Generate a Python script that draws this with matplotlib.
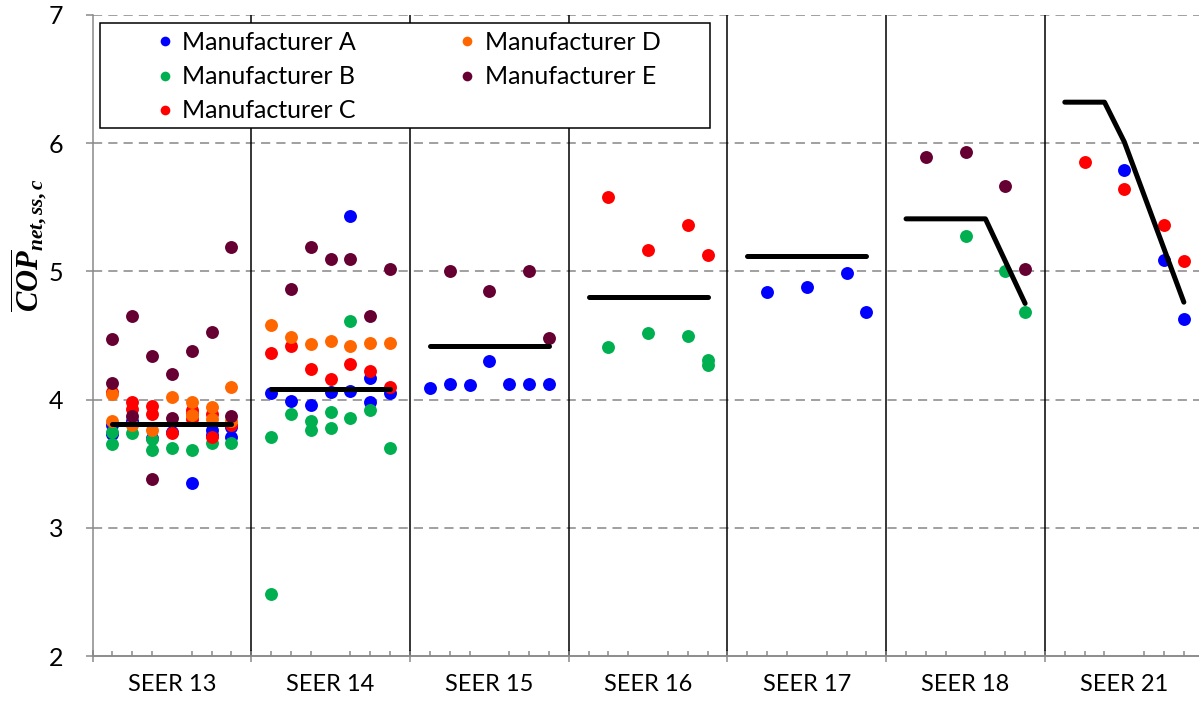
import matplotlib
matplotlib.use('Agg')
import matplotlib.pyplot as plt
from matplotlib.ticker import MultipleLocator
from matplotlib.patches import Rectangle

plt.rcParams['font.family'] = ['Lato', 'DejaVu Sans']
plt.rcParams['mathtext.fontset'] = 'custom'
plt.rcParams['mathtext.it'] = 'Liberation Serif:italic:bold'
plt.rcParams['mathtext.rm'] = 'Liberation Serif:bold'

# categorias (cada grupo ocupa 8 unidades en el eje x)
categories = ['SEER 13', 'SEER 14', 'SEER 15', 'SEER 16', 'SEER 17', 'SEER 18', 'SEER 21']

# Fabricante A
a_x = [1, 1, 2, 3, 4, 5, 6, 6, 7, 7,
       9, 10, 11, 12, 13, 13, 14, 14, 15,
       17, 18, 19, 20, 21, 22, 23,
       34, 36, 38, 39,
       52, 54, 55]
a_y = [3.80, 3.73, 3.83, 3.70, 3.75, 3.35, 3.76, 3.72, 3.71, 3.79,
       4.05, 3.99, 3.96, 4.06, 5.43, 4.07, 4.17, 3.98, 4.05,
       4.09, 4.12, 4.11, 4.30, 4.12, 4.12, 4.12,
       4.84, 4.88, 4.99, 4.68,
       5.79, 5.09, 4.63]

# Fabricante B
b_x = [1, 1, 2, 3, 3, 4, 5, 6, 7,
       9, 9, 10, 11, 11, 12, 12, 13, 13, 14, 15,
       26, 28, 30, 31, 31,
       44, 46, 47]
b_y = [3.75, 3.65, 3.74, 3.69, 3.61, 3.62, 3.61, 3.66, 3.66,
       3.71, 2.48, 3.89, 3.83, 3.76, 3.90, 3.78, 4.61, 3.86, 3.92, 3.62,
       4.41, 4.52, 4.50, 4.31, 4.27,
       5.28, 5.00, 4.68]

# Fabricante C
c_x = [1, 2, 2, 3, 3, 4, 5, 5, 5, 6, 6, 7,
       9, 10, 11, 12, 13, 14, 15,
       26, 28, 30, 31,
       50, 52, 54, 55]
c_y = [4.06, 3.98, 3.93, 3.95, 3.89, 3.74, 3.92, 3.85, 3.89, 3.89, 3.71, 3.80,
       4.36, 4.42, 4.24, 4.16, 4.28, 4.22, 4.10,
       5.58, 5.17, 5.36, 5.13,
       5.85, 5.64, 5.36, 5.08]

# Fabricante D
d_x = [1, 1, 2, 3, 4, 5, 5, 6, 6, 7, 7,
       9, 10, 11, 12, 13, 14, 15]
d_y = [4.04, 3.83, 3.80, 3.76, 4.02, 3.98, 3.88, 3.94, 3.85, 4.10, 3.83,
       4.58, 4.49, 4.43, 4.46, 4.42, 4.44, 4.44]

# Fabricante E
e_x = [1, 1, 2, 2, 3, 3, 4, 4, 5, 6, 7, 7,
       10, 11, 12, 13, 14, 15,
       18, 20, 22, 23,
       42, 44, 46, 47]
e_y = [4.47, 4.13, 4.65, 3.87, 4.34, 3.38, 4.20, 3.86, 4.38, 4.53, 5.19, 3.87,
       4.86, 5.19, 5.10, 5.10, 4.65, 5.02,
       5.00, 4.85, 5.00, 4.48,
       5.89, 5.93, 5.67, 5.02]

# lineas de referencia por grupo
ref_x = [[1, 7], [9, 15], [17, 23], [25, 31], [33, 39], [41, 45, 47], [49, 51, 52, 55]]
ref_y = [[3.81, 3.81], [4.08, 4.08], [4.42, 4.42], [4.80, 4.80], [5.12, 5.12],
         [5.41, 5.41, 4.75], [6.32, 6.32, 6.01, 4.76]]

series = [('Manufacturer A', a_x, a_y, '#0000FF'),
          ('Manufacturer B', b_x, b_y, '#00B050'),
          ('Manufacturer C', c_x, c_y, '#FF0000'),
          ('Manufacturer D', d_x, d_y, '#FF6600'),
          ('Manufacturer E', e_x, e_y, '#660033')]

gray = '#898989'
fig = plt.figure(figsize=(11.99, 7.02), dpi=100)
ax = fig.add_axes([92.5 / 1199, 46 / 702, 1111.2 / 1199, 641 / 702])

ax.set_xlim(0, 8 * len(categories))
ax.set_ylim(2, 7)

# rejilla horizontal
for yv in range(3, 8):
    ax.axhline(yv, color='#868686', lw=1.1, ls=(0, (6, 4)), zorder=1)

# separadores verticales
for i in range(1, len(categories) + 1):
    ax.axvline(8 * i, color='black', lw=1.1, zorder=1)

for name, xs, ys, col in series:
    ax.plot(xs, ys, 'o', color=col, ms=9.3, mec='none', label=name, zorder=3)

for xs, ys in zip(ref_x, ref_y):
    ax.plot(xs, ys, color='black', lw=3.6, solid_capstyle='round',
            solid_joinstyle='round', zorder=4)

for s in ['top', 'right']:
    ax.spines[s].set_visible(False)
for s in ['left', 'bottom']:
    ax.spines[s].set_color(gray)
    ax.spines[s].set_linewidth(1.1)

ax.set_xticks([8 * i + 4 for i in range(len(categories))], categories)
ax.xaxis.set_minor_locator(MultipleLocator(1))
ax.tick_params(axis='x', which='major', length=0, pad=13, labelsize=17)
ax.tick_params(axis='x', which='minor', direction='in', length=3.5, width=1.1, color=gray)
ax.set_yticks(range(2, 8))
ax.tick_params(axis='y', which='major', direction='out', length=5, width=1.1,
               color=gray, pad=16, labelsize=18)

sec = ax.secondary_xaxis('bottom')
sec.set_xticks([8 * i for i in range(len(categories) + 1)])
sec.tick_params(direction='inout', length=8, width=1.1, color=gray, labelbottom=False)
sec.spines['bottom'].set_color(gray)
sec.spines['bottom'].set_linewidth(1.1)

# leyenda
box = Rectangle((7.5 / 1111.2, (656 - 128) / 641), 610 / 1111.2, 105 / 641,
                transform=ax.transAxes, facecolor='white', edgecolor='black',
                lw=1.1, zorder=5)
ax.add_patch(box)
leg = ax.legend(loc='upper left', bbox_to_anchor=(56 / 1111.2, (656 - 26) / 641),
                ncol=2, frameon=False, fontsize=18, markerscale=0.75,
                handlelength=0.9, handletextpad=0.25, columnspacing=4.0,
                labelspacing=0.45, borderaxespad=0, borderpad=0.2)
leg.set_zorder(6)

fig.text(29 / 1199, 1 - 245 / 702, r'$\overline{COP}_{net,ss,c}$', rotation=90,
         fontsize=22, ha='center', va='center')

fig.savefig('out.png', dpi=100)
